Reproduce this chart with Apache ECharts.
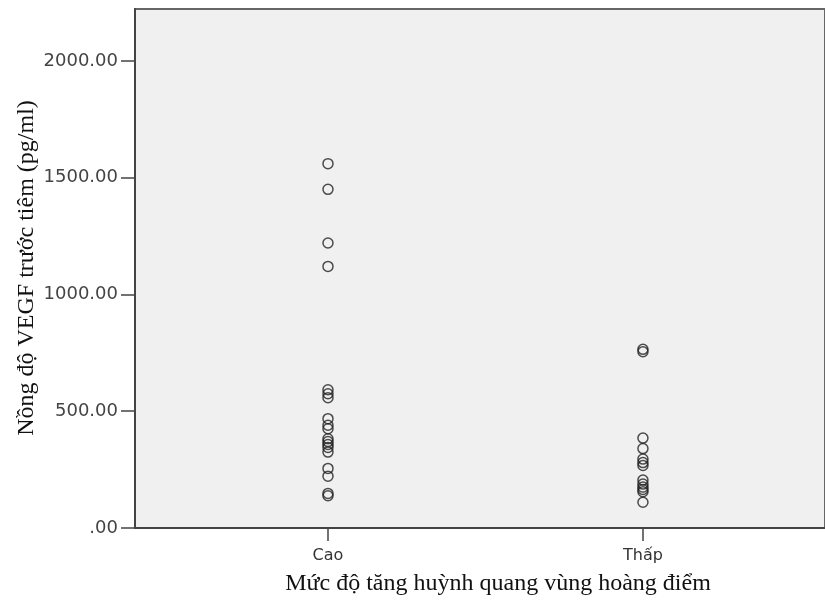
<!DOCTYPE html>
<html>
<head>
<meta charset="utf-8">
<script src="https://cdn.jsdelivr.net/npm/echarts@6/dist/echarts.min.js"></script>
<style>html,body{margin:0;padding:0;background:#fff}#c{width:825px;height:602px}</style>
</head>
<body>
<div id="c"></div>
<script>
var categories = ['Cao', 'Thấp'];
var caoValues = [1560, 1450, 1220, 1120, 592, 575, 558, 468, 440, 425, 382, 370, 358, 345, 325, 255, 222, 148, 138];
var thapValues = [765, 755, 385, 340, 295, 280, 268, 205, 188, 175, 165, 155, 110];
var yTicks = [0, 500, 1000, 1500, 2000];
var xTitle = 'Mức độ tăng huỳnh quang vùng hoàng điểm';
var yTitle = 'Nồng độ VEGF trước tiêm (pg/ml)';

var seriesValues = [caoValues, thapValues];
var data = [];
seriesValues.forEach(function (arr, i) {
  arr.forEach(function (v) { data.push([i, v]); });
});

var chart = echarts.init(document.getElementById('c'), null, {renderer: 'canvas'});
chart.setOption({
  backgroundColor: '#ffffff',
  animation: false,
  grid: {
    left: 135, top: 9, right: 0, bottom: 74,
    show: true, backgroundColor: '#f0f0f0', borderColor: '#666', borderWidth: 2
  },
  xAxis: {
    type: 'value',
    min: -0.6127, max: 1.578,
    splitLine: {show: false},
    axisLine: {show: true, onZero: false, lineStyle: {color: '#444', width: 2}},
    axisTick: {show: true, length: 13, customValues: [0, 1], lineStyle: {color: '#444', width: 1.5}},
    axisLabel: {
      customValues: [0, 1], margin: 20,
      fontFamily: 'DejaVu Sans', fontSize: 16, color: '#333',
      formatter: function (v) { return categories[Math.round(v)]; }
    }
  },
  yAxis: {
    type: 'value',
    min: 0, max: 2222,
    splitLine: {show: false},
    axisLine: {show: true, onZero: false, lineStyle: {color: '#444', width: 2}},
    axisTick: {show: true, length: 14, customValues: yTicks, lineStyle: {color: '#444', width: 1.5}},
    axisLabel: {
      customValues: yTicks, margin: 17,
      fontFamily: 'DejaVu Sans', fontSize: 18, color: '#444',
      formatter: function (v) { return v === 0 ? '.00' : v.toFixed(2); }
    }
  },
  graphic: [
    {type: 'text', x: 498, y: 584, style: {text: xTitle, fontFamily: 'Liberation Serif', fontSize: 24, fill: '#111', align: 'center', verticalAlign: 'middle'}},
    {type: 'text', x: 27, y: 268, rotation: Math.PI / 2, style: {text: yTitle, fontFamily: 'Liberation Serif', fontSize: 24, fill: '#111', align: 'center', verticalAlign: 'middle'}}
  ],
  series: [{
    type: 'scatter',
    data: data,
    symbol: 'circle',
    symbolSize: 10,
    itemStyle: {color: 'rgba(0,0,0,0)', borderColor: '#222', borderWidth: 1.5}
  }]
});
</script>
</body>
</html>
